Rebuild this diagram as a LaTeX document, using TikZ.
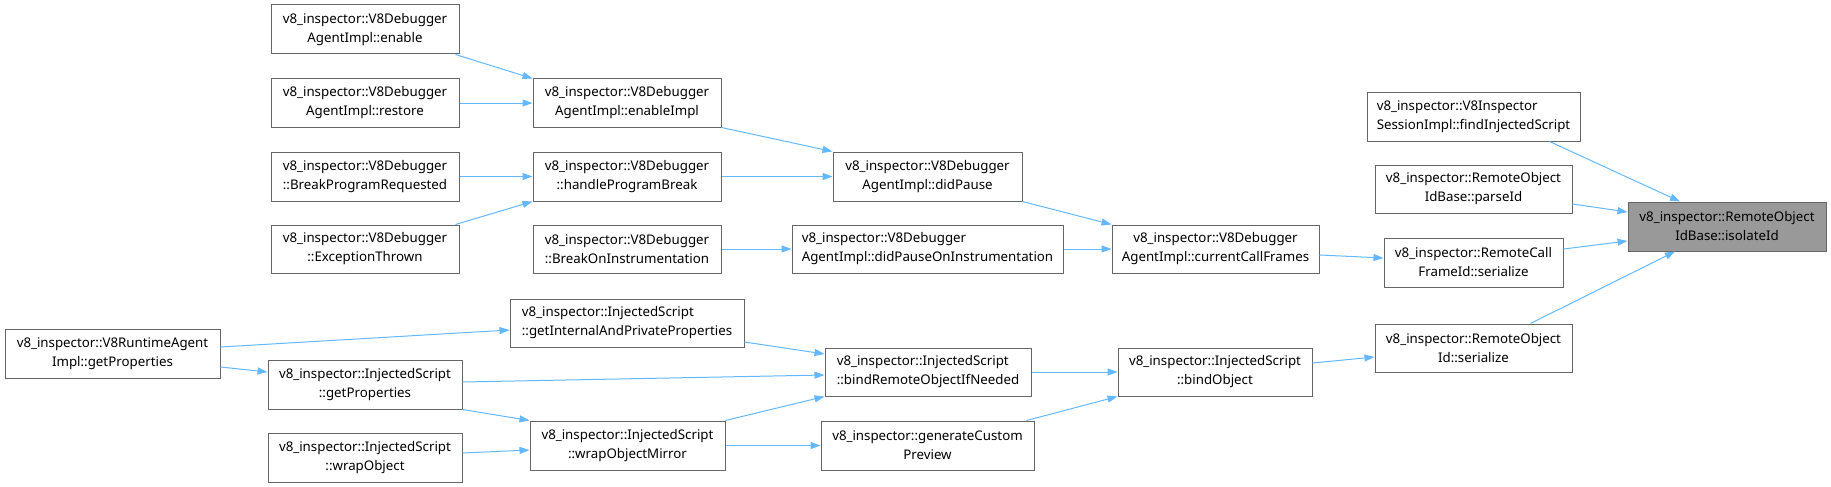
\documentclass[tikz,border=0pt]{standalone}
\usepackage{fontspec}
\setmainfont{Noto Sans}
\usetikzlibrary{arrows.meta}
\definecolor{edgec}{HTML}{63B8FF}
\definecolor{bord}{HTML}{666666}
\definecolor{hl}{HTML}{999999}
\newcommand\mybox[7]{\node[#1, minimum width={(#5-#3)*1pt}, minimum height={(#6-#4)*1pt}] (#2) at ({(#3+#5)/2},{(#4+#6)/2}) {#7};}
\begin{document}
\begin{tikzpicture}[x=1pt,y=-1pt,
  box/.style={draw=bord, line width=1pt, fill=white, inner sep=0pt, align=center, font=\fontsize{13.3}{19}\selectfont},
  lbox/.style={box, align=left},
  hlbox/.style={box, fill=hl},
  arr/.style={draw=edgec, line width=1pt, -{Triangle[length=10pt,width=7pt]}}]
\useasboundingbox (0,0) rectangle (1831,487);
\mybox{box}{enable}{271}{5}{459}{54}{v8\_inspector::V8Debugger\\AgentImpl::enable}
\mybox{box}{restore}{271}{79}{459}{127}{v8\_inspector::V8Debugger\\AgentImpl::restore}
\mybox{box}{bpr}{271}{152}{459}{201}{v8\_inspector::V8Debugger\\::BreakProgramRequested}
\mybox{box}{et}{271}{225}{459}{273}{v8\_inspector::V8Debugger\\::ExceptionThrown}
\mybox{box}{enimpl}{533}{79}{721}{127}{v8\_inspector::V8Debugger\\AgentImpl::enableImpl}
\mybox{box}{hpb}{533}{152}{721}{201}{v8\_inspector::V8Debugger\\::handleProgramBreak}
\mybox{box}{boi}{533}{225}{721}{273}{v8\_inspector::V8Debugger\\::BreakOnInstrumentation}
\mybox{box}{dp}{833}{152}{1022}{201}{v8\_inspector::V8Debugger\\AgentImpl::didPause}
\mybox{lbox}{dpoi}{792}{225}{1063}{273}{v8\_inspector::V8Debugger\\AgentImpl::didPauseOnInstrumentation}
\mybox{box}{ccf}{1112}{225}{1319}{273}{v8\_inspector::V8Debugger\\AgentImpl::currentCallFrames}
\mybox{lbox}{fis}{1367}{92}{1580}{141}{v8\_inspector::V8Inspector\\SessionImpl::findInjectedScript}
\mybox{box}{pid}{1375}{165}{1572}{213}{v8\_inspector::RemoteObject\\IdBase::parseId}
\mybox{hlbox}{iso}{1628}{202}{1826}{251}{v8\_inspector::RemoteObject\\IdBase::isolateId}
\mybox{box}{rcf}{1384}{238}{1563}{287}{v8\_inspector::RemoteCall\\FrameId::serialize}
\mybox{box}{roi}{1375}{324}{1572}{372}{v8\_inspector::RemoteObject\\Id::serialize}
\mybox{box}{rgp}{5}{329}{220}{378}{v8\_inspector::V8RuntimeAgent\\Impl::getProperties}
\mybox{lbox}{giapp}{510}{299}{744}{347}{v8\_inspector::InjectedScript\\::getInternalAndPrivateProperties}
\mybox{box}{isgp}{268}{360}{462}{409}{v8\_inspector::InjectedScript\\::getProperties}
\mybox{box}{wo}{268}{433}{462}{482}{v8\_inspector::InjectedScript\\::wrapObject}
\mybox{box}{wom}{530}{421}{725}{470}{v8\_inspector::InjectedScript\\::wrapObjectMirror}
\mybox{lbox}{bro}{825}{348}{1031}{396}{v8\_inspector::InjectedScript\\::bindRemoteObjectIfNeeded}
\mybox{box}{gcp}{821}{421}{1034}{470}{v8\_inspector::generateCustom\\Preview}
\mybox{box}{bo}{1118}{348}{1312}{396}{v8\_inspector::InjectedScript\\::bindObject}

\draw[arr] ([xshift=-4pt]enable.south east) -- (enimpl.north west);
\draw[arr] (restore.east) -- (enimpl.west);
\draw[arr] (bpr.east) -- (hpb.west);
\draw[arr] ([xshift=-4pt]et.north east) -- (hpb.south west);
\draw[arr] (enimpl.south east) -- (dp.north west);
\draw[arr] (hpb.east) -- (dp.west);
\draw[arr] (boi.east) -- (dpoi.west);
\draw[arr] (dp.south east) -- (ccf.north west);
\draw[arr] (dpoi.east) -- (ccf.west);
\draw[arr] ([yshift=-6pt]ccf.east) -- ([yshift=4.5pt]rcf.west);
\draw[arr] ([xshift=-31pt]fis.south east) -- ([xshift=-47pt]iso.north);
\draw[arr] ([yshift=-15pt]pid.east) -- ([yshift=14.5pt]iso.west);
\draw[arr] ([yshift=13.5pt]rcf.east) -- ([yshift=-14.5pt]iso.west);
\draw[arr] ([xshift=-42pt]roi.north east) -- ([xshift=-52pt]iso.south);
\draw[arr] ([yshift=6.5pt]rgp.east) -- ([yshift=-7pt]giapp.west);
\draw[arr] ([yshift=-13.5pt]rgp.east) -- ([yshift=12.5pt]isgp.west);
\draw[arr] ([yshift=-19pt]giapp.east) -- ([yshift=18pt]bro.west);
\draw[arr] ([yshift=2.5pt]isgp.east) -- ([yshift=-3pt]bro.west);
\draw[arr] (isgp.south east) -- (wom.north west);
\draw[arr] ([yshift=4.5pt]wo.east) -- ([yshift=-4.5pt]wom.west);
\draw[arr] (wom.north east) -- (bro.south west);
\draw[arr] (wom.east) -- (gcp.west);
\draw[arr] (bro.east) -- (bo.west);
\draw[arr] ([xshift=-8pt]gcp.north east) -- (bo.south west);
\draw[arr] ([yshift=9pt]bo.east) -- ([yshift=-9pt]roi.west);
\end{tikzpicture}
\end{document}
